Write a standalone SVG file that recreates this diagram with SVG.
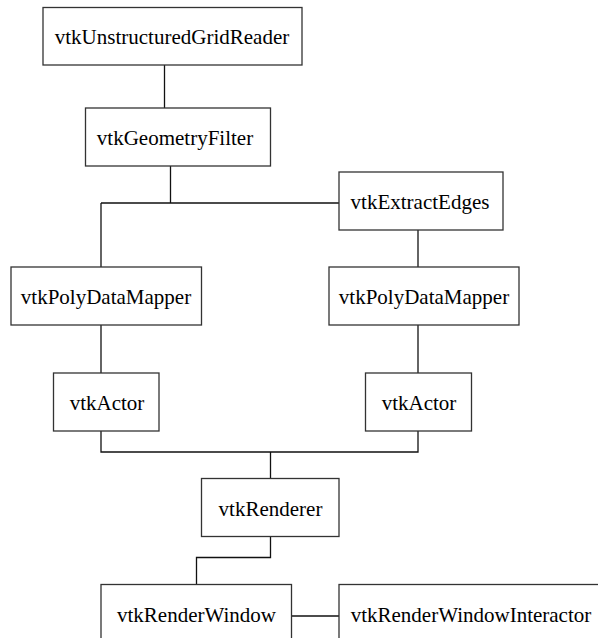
<svg xmlns="http://www.w3.org/2000/svg" width="598" height="638" viewBox="0 0 598 638">
<style>
.box{fill:#fff;stroke:#333;stroke-width:1.3}
.lbl{font-family:'Liberation Serif','Times New Roman','DejaVu Serif',serif;font-size:21px;fill:#000;text-anchor:middle}
.edge{fill:none;stroke:#111;stroke-width:1.3}
</style>
<rect width="598" height="638" fill="#fff"/>
<g id="connectors">
<path class="edge" d="M164.5,65 V108"/>
<path class="edge" d="M170.5,166 V203 M101,203 H339"/>
<path class="edge" d="M101,203 V267"/>
<path class="edge" d="M418,230 V267"/>
<path class="edge" d="M101,325 V373"/>
<path class="edge" d="M418,325 V373"/>
<path class="edge" d="M101,431 V452 H418 V431"/>
<path class="edge" d="M270.5,452 V478.5"/>
<path class="edge" d="M270.5,536.5 V557.5 H196.5 V584.5"/>
<path class="edge" d="M291.5,616 H339"/>
</g>
<g id="reader"><rect class="box" x="43" y="7.5" width="259" height="57.5"/><text class="lbl" x="172" y="44" font-family="Liberation Serif, serif">vtkUnstructuredGridReader</text></g>
<g id="geometry"><rect class="box" x="85.5" y="108" width="185" height="58"/><text class="lbl" x="175" y="145">vtkGeometryFilter</text></g>
<g id="extract"><rect class="box" x="339" y="172" width="164" height="58"/><text class="lbl" x="420" y="209">vtkExtractEdges</text></g>
<g id="mapper1"><rect class="box" x="11" y="267" width="190.5" height="58"/><text class="lbl" x="106" y="304">vtkPolyDataMapper</text></g>
<g id="mapper2"><rect class="box" x="329" y="267" width="190" height="58"/><text class="lbl" x="424" y="304">vtkPolyDataMapper</text></g>
<g id="actor1"><rect class="box" x="53.5" y="373" width="105.5" height="58"/><text class="lbl" x="107" y="410">vtkActor</text></g>
<g id="actor2"><rect class="box" x="365.5" y="373" width="106" height="58"/><text class="lbl" x="419" y="410">vtkActor</text></g>
<g id="renderer"><rect class="box" x="201.5" y="478.5" width="137.5" height="58"/><text class="lbl" x="270.5" y="515.5">vtkRenderer</text></g>
<g id="renderwindow"><rect class="box" x="101" y="584.5" width="190.5" height="58"/><text class="lbl" x="196.5" y="621.5">vtkRenderWindow</text></g>
<g id="interactor"><rect class="box" x="339" y="584.5" width="264" height="58"/><text class="lbl" x="471" y="621.5">vtkRenderWindowInteractor</text></g>
</svg>
